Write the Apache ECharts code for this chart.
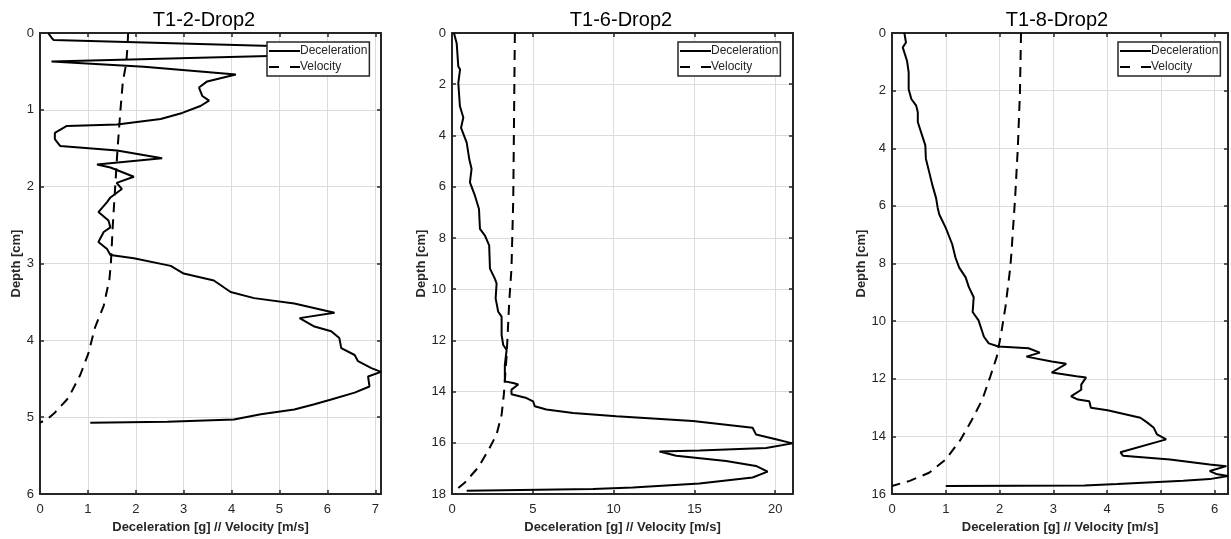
<!DOCTYPE html>
<html>
<head>
<meta charset="utf-8">
<script src="https://cdn.jsdelivr.net/npm/echarts@6/dist/echarts.min.js"></script>
<style>
html,body{margin:0;padding:0;background:#fff;}
#chart{width:1231px;height:539px;}
</style>
</head>
<body>
<div id="chart"></div>
<script>
// ---------- DATA ----------
const titles = ['T1-2-Drop2', 'T1-6-Drop2', 'T1-8-Drop2'];
const seriesNames = ['Deceleration', 'Velocity'];
const xAxisName = 'Deceleration [g] // Velocity [m/s]';
const yAxisName = 'Depth [cm]';

// Plot 1 (T1-2-Drop2)
const dec1X = [0.17,0.24,0.28,4.85,6.55,6.55,4.78,0.24,2.17,4.09,3.49,3.32,3.39,3.53,3.35,2.97,2.52,1.61,0.56,0.31,0.31,0.42,1.61,2.55,1.19,1.47,1.96,1.60,1.71,1.47,1.40,1.22,1.43,1.47,1.33,1.22,1.40,1.47,1.96,2.73,3.00,3.63,3.98,4.47,5.31,6.15,5.42,5.73,6.08,6.25,6.29,6.57,6.64,6.92,7.12,6.85,6.88,6.57,6.08,5.73,5.31,4.61,4.05,2.66,1.05];
const dec1D = [0,0.06,0.09,0.17,0.20,0.28,0.30,0.37,0.44,0.54,0.63,0.71,0.82,0.88,0.95,1.04,1.12,1.19,1.21,1.30,1.38,1.47,1.53,1.63,1.71,1.75,1.87,1.95,2.03,2.14,2.20,2.33,2.44,2.53,2.59,2.72,2.81,2.89,2.93,3.03,3.13,3.22,3.37,3.45,3.52,3.64,3.71,3.82,3.88,3.97,4.10,4.19,4.27,4.36,4.41,4.47,4.60,4.68,4.77,4.83,4.90,4.96,5.03,5.06,5.07];
const vel1X = [1.84,1.83,1.80,1.73,1.68,1.62,1.57,1.52,1.48,1.45,1.33,1.15,1.01,0.84,0.59,0.31,0.14,0.00];
const vel1D = [0,0.15,0.40,0.63,1.00,1.50,2.00,2.50,3.00,3.20,3.55,3.83,4.17,4.45,4.75,4.94,5.03,5.07];

// Plot 2 (T1-6-Drop2)
const dec2X = [0.12,0.29,0.39,0.50,0.39,0.49,0.70,0.56,0.91,1.07,1.21,1.11,1.42,1.67,1.73,2.04,2.30,2.35,2.65,2.76,2.70,2.86,3.07,3.07,3.17,3.38,3.27,3.27,3.78,4.10,3.68,3.68,4.61,5.02,5.12,5.84,7.49,10.17,14.90,18.60,18.81,20.04,21.07,19.43,15.31,12.84,13.87,16.96,18.81,19.53,18.60,15.31,11.19,8.72,0.91];
const dec2D = [0,0.40,1.31,1.42,1.95,2.86,3.30,3.70,4.28,4.93,5.30,5.83,6.35,6.87,7.65,7.91,8.29,9.20,9.59,9.78,10.36,10.88,11.07,11.79,12.18,12.37,12.95,13.60,13.66,13.72,13.92,14.10,14.25,14.38,14.57,14.70,14.83,14.96,15.15,15.41,15.67,15.86,16.02,16.20,16.30,16.34,16.50,16.71,16.90,17.12,17.35,17.59,17.74,17.80,17.87];
const vel2X = [3.89,3.85,3.79,3.68,3.54,3.38,3.21,3.07,2.76,2.24,1.62,0.80,0.19];
const vel2D = [0,2.60,6.50,9.20,10.50,12.60,14.10,14.90,15.67,16.30,16.96,17.55,17.87];

// Plot 3 (T1-8-Drop2)
const dec3X = [0.23,0.26,0.20,0.28,0.31,0.31,0.36,0.45,0.48,0.48,0.54,0.62,0.63,0.69,0.75,0.82,0.85,0.88,1.00,1.12,1.18,1.25,1.37,1.43,1.52,1.50,1.61,1.71,1.80,1.98,2.54,2.75,2.50,2.97,3.24,2.97,3.43,3.61,3.52,3.52,3.33,3.46,3.67,3.70,4.01,4.62,4.75,4.87,4.93,5.10,4.25,4.30,5.17,5.91,6.22,5.91,6.03,6.25,5.91,5.42,4.19,3.58,1.00];
const dec3D = [0,0.33,0.50,0.97,1.37,1.95,2.29,2.52,2.75,3.09,3.44,3.90,4.36,4.81,5.27,5.73,6.07,6.30,6.76,7.33,7.79,8.14,8.48,8.82,9.17,9.68,9.97,10.54,10.77,10.88,10.94,11.09,11.23,11.40,11.48,11.78,11.91,11.95,12.20,12.38,12.61,12.72,12.78,13.00,13.09,13.35,13.52,13.70,13.93,14.10,14.55,14.67,14.80,14.97,15.03,15.20,15.30,15.37,15.48,15.54,15.65,15.70,15.72];
const vel3X = [2.40,2.38,2.34,2.29,2.22,2.20,2.11,2.03,1.95,1.83,1.68,1.49,1.28,1.00,0.69,0.33,0.00];
const vel3D = [0,2.06,4.00,5.72,7.67,8.14,9.51,10.43,11.23,11.91,12.72,13.41,14.10,14.80,15.26,15.54,15.72];

// Axis ranges / ticks
const xMax = [7.12, 21.1, 6.25];
const xInterval = [1, 5, 1];
const yMax = [6, 18, 16];
const yInterval = [1, 2, 2];

// ---------- LAYOUT ----------
const grids = [
  {left: 40, top: 33, width: 341, height: 464},
  {left: 452, top: 33, width: 341, height: 464},
  {left: 892, top: 33, width: 339, height: 465}
];
const titleCenters = [204, 621, 1057];
const legendPos = [[267, 42], [678, 42], [1118, 42]];
const yNameGap = [16, 23, 23];

const frameColor = '#262626';
const gridColor = '#dcdcdc';
const fontFam = 'Liberation Sans, Arial, sans-serif';
const solidIcon = 'path://M0,0H31V2H0Z';
const dashIcon = 'path://M0,0H10V2H0Z M21,0H31V2H21Z';

function pairs(xs, ds){ return xs.map((x,i)=>[x, ds[i]]); }
function fmt(interval){
  return function(v){
    const r = v / interval;
    return Math.abs(r - Math.round(r)) < 1e-6 ? String(Math.round(v*1000)/1000) : '';
  };
}

const option = {
  animation: false,
  backgroundColor: '#fff',
  title: [], grid: [], xAxis: [], yAxis: [], legend: [], series: []
};

const decData = [pairs(dec1X, dec1D), pairs(dec2X, dec2D), pairs(dec3X, dec3D)];
const velData = [pairs(vel1X, vel1D), pairs(vel2X, vel2D), pairs(vel3X, vel3D)];

for (let i = 0; i < 3; i++) {
  option.title.push({
    text: titles[i], left: titleCenters[i], top: 10, textAlign: 'center', padding: 0,
    textStyle: {fontFamily: fontFam, fontSize: 20, fontWeight: 'normal', color: '#000'}
  });
  option.grid.push(Object.assign({containLabel: false}, grids[i]));
  const axisLine = {show: true, onZero: false, lineStyle: {color: frameColor, width: 2}};
  const axisTick = {show: true, inside: true, length: 4, lineStyle: {color: frameColor, width: 1.5}};
  option.xAxis.push({
    type: 'value', gridIndex: i, position: 'bottom', min: 0, max: xMax[i], interval: xInterval[i],
    axisLine: axisLine, axisTick: axisTick,
    axisLabel: {show: true, margin: 9, color: frameColor, fontFamily: fontFam, fontSize: 13, formatter: fmt(xInterval[i]), showMaxLabel: true},
    splitLine: {show: true, lineStyle: {color: gridColor, width: 1}},
    name: xAxisName, nameLocation: 'middle', nameGap: 26,
    nameTextStyle: {fontFamily: fontFam, fontSize: 13, fontWeight: 'bold', color: frameColor}
  });
  option.xAxis.push({
    type: 'value', gridIndex: i, position: 'top', min: 0, max: xMax[i], interval: xInterval[i],
    axisLine: axisLine, axisTick: axisTick, axisLabel: {show: false}, splitLine: {show: false}
  });
  option.yAxis.push({
    type: 'value', gridIndex: i, position: 'left', inverse: true, min: 0, max: yMax[i], interval: yInterval[i],
    axisLine: axisLine, axisTick: axisTick,
    axisLabel: {show: true, margin: 6, color: frameColor, fontFamily: fontFam, fontSize: 13},
    splitLine: {show: true, lineStyle: {color: gridColor, width: 1}},
    name: yAxisName, nameLocation: 'middle', nameRotate: 90, nameGap: yNameGap[i],
    nameTextStyle: {fontFamily: fontFam, fontSize: 13, fontWeight: 'bold', color: frameColor}
  });
  option.yAxis.push({
    type: 'value', gridIndex: i, position: 'right', inverse: true, min: 0, max: yMax[i], interval: yInterval[i],
    axisLine: axisLine, axisTick: axisTick, axisLabel: {show: false}, splitLine: {show: false}
  });
  option.series.push({
    name: seriesNames[0], type: 'line', xAxisIndex: i*2, yAxisIndex: i*2,
    data: decData[i], symbol: 'none', showSymbol: false, smooth: false,
    lineStyle: {color: '#000', width: 2, type: 'solid'}, itemStyle: {color: '#000'}, z: 3
  });
  option.series.push({
    name: seriesNames[1], type: 'line', xAxisIndex: i*2, yAxisIndex: i*2,
    data: velData[i], symbol: 'none', showSymbol: false, smooth: false,
    lineStyle: {color: '#000', width: 2, type: [10, 7]}, itemStyle: {color: '#000'}, z: 3
  });
  option.legend.push({
    data: [{name: seriesNames[0], icon: solidIcon}, {name: seriesNames[1], icon: dashIcon}],
    orient: 'vertical', left: legendPos[i][0], top: legendPos[i][1],
    backgroundColor: '#fff', borderColor: frameColor, borderWidth: 1.5, borderRadius: 0,
    padding: [2, 2, 2, 2], itemGap: 2, itemWidth: 31, itemHeight: 2, z: 10,
    selectedMode: false,
    itemStyle: {color: '#000', borderWidth: 0},
    textStyle: {fontFamily: fontFam, fontSize: 12, color: frameColor, padding: [0,0,0,-5], lineHeight: 14}
  });
}

const chart = echarts.init(document.getElementById('chart'), null, {renderer: 'canvas'});
chart.setOption(option);
</script>
</body>
</html>
